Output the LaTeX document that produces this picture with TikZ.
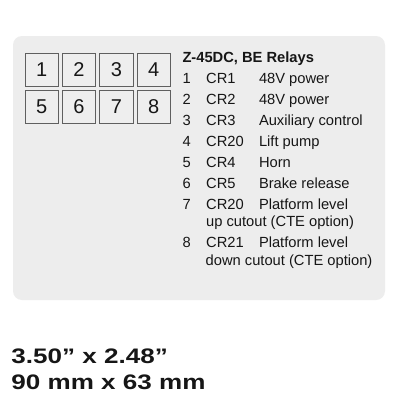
\documentclass[tikz,border=0pt]{standalone}
\usepackage{fontspec}
\setmainfont{Liberation Sans}
\usepackage{graphicx}
\definecolor{panel}{RGB}{237,237,237}
\definecolor{boxfill}{RGB}{238,238,238}
\definecolor{boxline}{RGB}{95,95,95}
\definecolor{ink}{RGB}{22,22,22}
\begin{document}
\begin{tikzpicture}[x=1pt,y=-1pt,
  relaybox/.style={draw=boxline,line width=0.9pt,fill=boxfill,minimum width=33.5pt,minimum height=33pt,inner sep=0pt,font=\fontsize{20}{24}\selectfont,text=ink},
  listtext/.style={anchor=base west,inner sep=0pt,font=\fontsize{14.7}{17}\selectfont,text=ink},
  titletext/.style={listtext,font=\bfseries\fontsize{14.7}{17}\selectfont},
  sizetext/.style={anchor=base west,inner sep=0pt,font=\bfseries\fontsize{21}{25}\selectfont,text=ink}]
\useasboundingbox (0,0) rectangle (400,400);
\fill[white] (0,0) rectangle (400,400);
\fill[panel,rounded corners=9pt] (13,36) rectangle (385,300);
% relay boxes
\node[relaybox] (b1) at (41.8,69.5) {1};
\node[relaybox] (b2) at (79,69.5) {2};
\node[relaybox] (b3) at (116.4,69.5) {3};
\node[relaybox] (b4) at (153.7,69.5) {4};
\node[relaybox] (b5) at (41.8,106.5) {5};
\node[relaybox] (b6) at (79,106.5) {6};
\node[relaybox] (b7) at (116.4,106.5) {7};
\node[relaybox] (b8) at (153.7,106.5) {8};
% title
\node[titletext] (title) at (182.3,62.3) {Z-45DC, BE Relays};
% list
\def\cn{182.3}\def\cc{206}\def\cd{258.8}
\node[listtext] (n1) at (\cn,83.5) {1};
\node[listtext] (c1) at (\cc,83.5) {CR1};
\node[listtext] (d1) at (\cd,83.5) {48V power};
\node[listtext] (n2) at (\cn,104.3) {2};
\node[listtext] (c2) at (\cc,104.3) {CR2};
\node[listtext] (d2) at (\cd,104.3) {48V power};
\node[listtext] (n3) at (\cn,125) {3};
\node[listtext] (c3) at (\cc,125) {CR3};
\node[listtext] (d3) at (\cd,125) {Auxiliary control};
\node[listtext] (n4) at (\cn,146) {4};
\node[listtext] (c4) at (\cc,146) {CR20};
\node[listtext] (d4) at (\cd,146) {Lift pump};
\node[listtext] (n5) at (\cn,167) {5};
\node[listtext] (c5) at (\cc,167) {CR4};
\node[listtext] (d5) at (\cd,167) {Horn};
\node[listtext] (n6) at (\cn,188) {6};
\node[listtext] (c6) at (\cc,188) {CR5};
\node[listtext] (d6) at (\cd,188) {Brake release};
\node[listtext] (n7) at (\cn,209) {7};
\node[listtext] (c7) at (\cc,209) {CR20};
\node[listtext] (d7) at (\cd,209) {Platform level};
\node[listtext] (e7) at (\cc,226.7) {up cutout (CTE option)};
\node[listtext] (n8) at (\cn,247.5) {8};
\node[listtext] (c8) at (\cc,247.5) {CR21};
\node[listtext] (d8) at (\cd,247.5) {Platform level};
\node[listtext] (e8) at (205.5,265.2) {down cutout (CTE option)};
% size text
\node[sizetext] (s1) at (11.3,363.3) {\scalebox{1.24}[1]{3.50” x 2.48”}};
\node[sizetext] (s2) at (11.3,389.3) {\scalebox{1.24}[1]{90 mm x 63 mm}};
\end{tikzpicture}
\end{document}
